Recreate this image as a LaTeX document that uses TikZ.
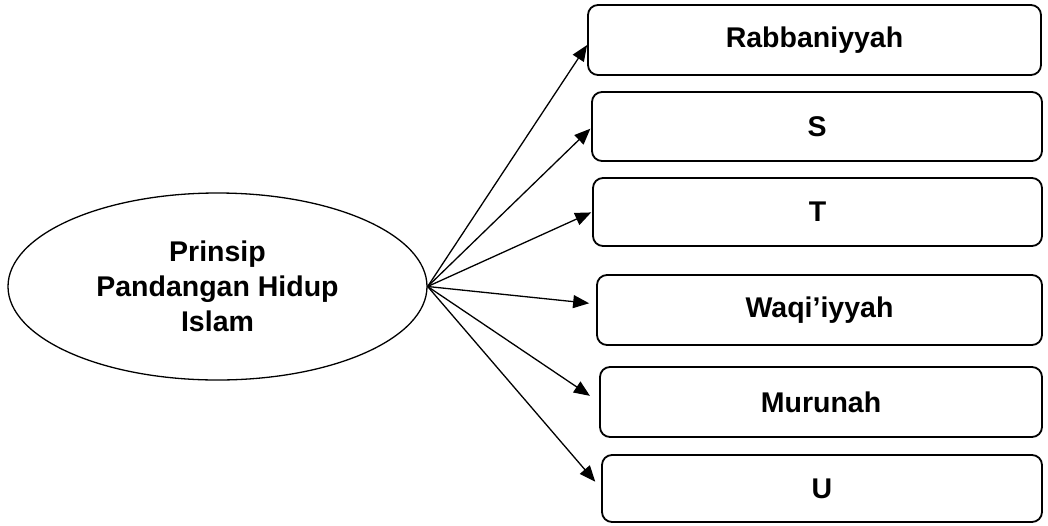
\documentclass[tikz,border=0pt]{standalone}
\usepackage{fontspec}
\setmainfont{Liberation Sans}
\usetikzlibrary{shapes.geometric, arrows.meta}

\begin{document}
\begin{tikzpicture}[x=1pt, y=-1pt]
	\tikzset{
		hub/.style={ellipse, draw, line width=1.3pt, align=center, inner sep=0pt,
		font=\bfseries\fontsize{28.5}{35}\selectfont, minimum width=419pt, minimum height=187pt},
		box/.style={rectangle, draw, line width=1.8pt, rounded corners=10pt, inner sep=0pt,
		font=\bfseries\fontsize{28.5}{34}\selectfont},
		link/.style={-{Triangle[length=16pt,width=13pt]}, line width=1.3pt}
	}
	\useasboundingbox (0,0) rectangle (1048,525);
	\node[hub](prinsip) at (217.5,286.5){Prinsip\\Pandangan Hidup\\Islam};
	\node[box, minimum width=453pt, minimum height=70pt](rabbani) at (814.5,40){Rabbaniyyah};
	\node[box, minimum width=450pt, minimum height=69pt](s) at (817,126.5){S};
	\node[box, minimum width=449pt, minimum height=68pt](t) at (817.5,212){T};
	\node[box, minimum width=445pt, minimum height=70pt](waqi) at (819.5,310){Waqi’iyyah};
	\node[box, minimum width=442pt, minimum height=70pt](murunah) at (821,402){Murunah};
	\node[box, minimum width=440pt, minimum height=67pt](u) at (822,488.5){U};

	\draw[link](prinsip.east) -- ([yshift=-5pt]rabbani.west);
	\draw[link, shorten >=1pt](prinsip.east) -- ([yshift=-1.5pt]s.west);
	\draw[link, shorten >=1pt](prinsip.east) -- (t.west);
	\draw[link, shorten >=7pt](prinsip.east) -- ([yshift=6pt]waqi.west);
	\draw[link, shorten >=11pt](prinsip.east) -- (murunah.west);
	\draw[link, shorten >=9pt](prinsip.east) -- (u.west);
\end{tikzpicture}
\end{document}
